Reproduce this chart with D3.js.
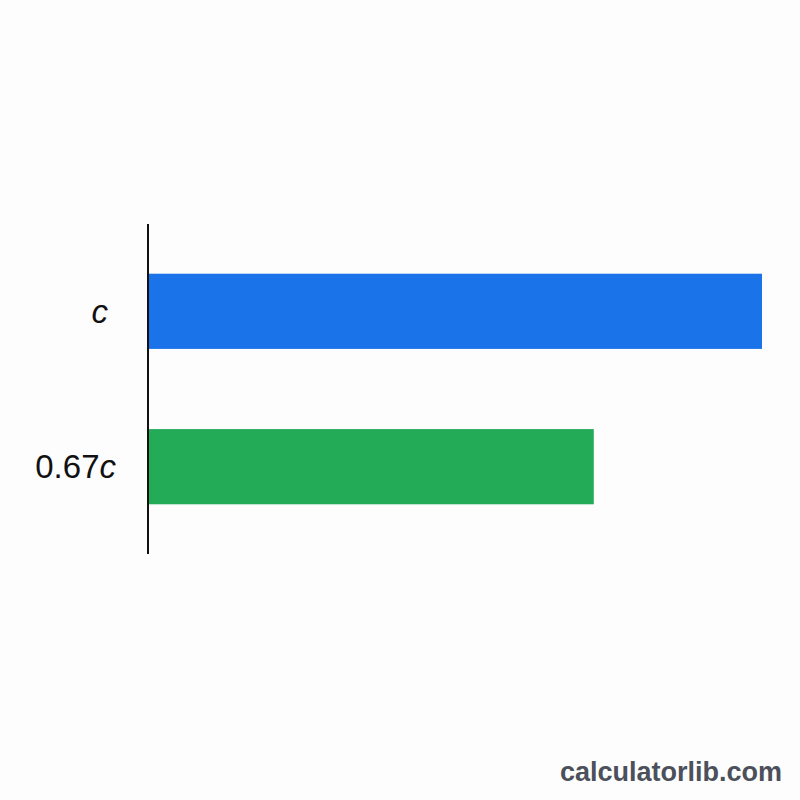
<!DOCTYPE html>
<html>
  <head>
    <meta charset="UTF-8">
    <style type="text/css">
      body { margin: 0; background: #fdfdfd; }
      text { font-family: 'Liberation Sans', Arial, sans-serif; }
    </style>
  </head>
  <body>
    <div id="canvas"></div>
    <script src="https://d3js.org/d3.v7.min.js"></script>
    <script type="text/javascript">
      // bar labels, speeds as fraction of c, colours
      var labels = ['c', '0.67c'];
      var speeds = [1, 0.726];
      var colors = ['#1a73e8', '#24ab57'];

      var width = 800, height = 800;
      var svg = d3.select('#canvas').append('svg')
        .attr('width', width)
        .attr('height', height);

      svg.append('rect')
        .attr('width', width).attr('height', height)
        .attr('fill', '#fdfdfd');

      var x = d3.scaleLinear().domain([0, 1]).range([148, 762]);
      var y = d3.scaleBand()
        .domain(labels)
        .range([224, 554])
        .paddingInner(0.516)
        .paddingOuter(0.32);

      svg.selectAll('rect.bar')
        .data(labels)
        .enter().append('rect')
        .attr('class', 'bar')
        .attr('x', x(0))
        .attr('y', function (d) { return y(d); })
        .attr('width', function (d, i) { return x(speeds[i]) - x(0); })
        .attr('height', y.bandwidth())
        .attr('fill', function (d, i) { return colors[i]; });

      // y axis line
      svg.append('line')
        .attr('x1', x(0)).attr('x2', x(0))
        .attr('y1', y.range()[0]).attr('y2', y.range()[1])
        .attr('stroke', '#111')
        .attr('stroke-width', 2);

      // category labels, the c is italic
      var lab = svg.selectAll('text.lab')
        .data(labels)
        .enter().append('text')
        .attr('class', 'lab')
        .attr('x', function (d, i) { return i == 0 ? 108 : 116; })
        .attr('y', function (d) { return y(d) + y.bandwidth() / 2; })
        .attr('dy', '0.35em')
        .attr('text-anchor', 'end')
        .style('font-size', '33px')
        .attr('fill', '#111');
      lab.append('tspan').text(function (d) { return d.slice(0, -1); });
      lab.append('tspan').style('font-style', 'italic').text(function (d) { return d.slice(-1); });

      svg.append('text')
        .attr('x', 782)
        .attr('y', 781)
        .attr('text-anchor', 'end')
        .style('font-size', '27px')
        .style('font-weight', 'bold')
        .attr('fill', '#4b505b')
        .text('calculatorlib.com');
    </script>
  </body>
</html>
